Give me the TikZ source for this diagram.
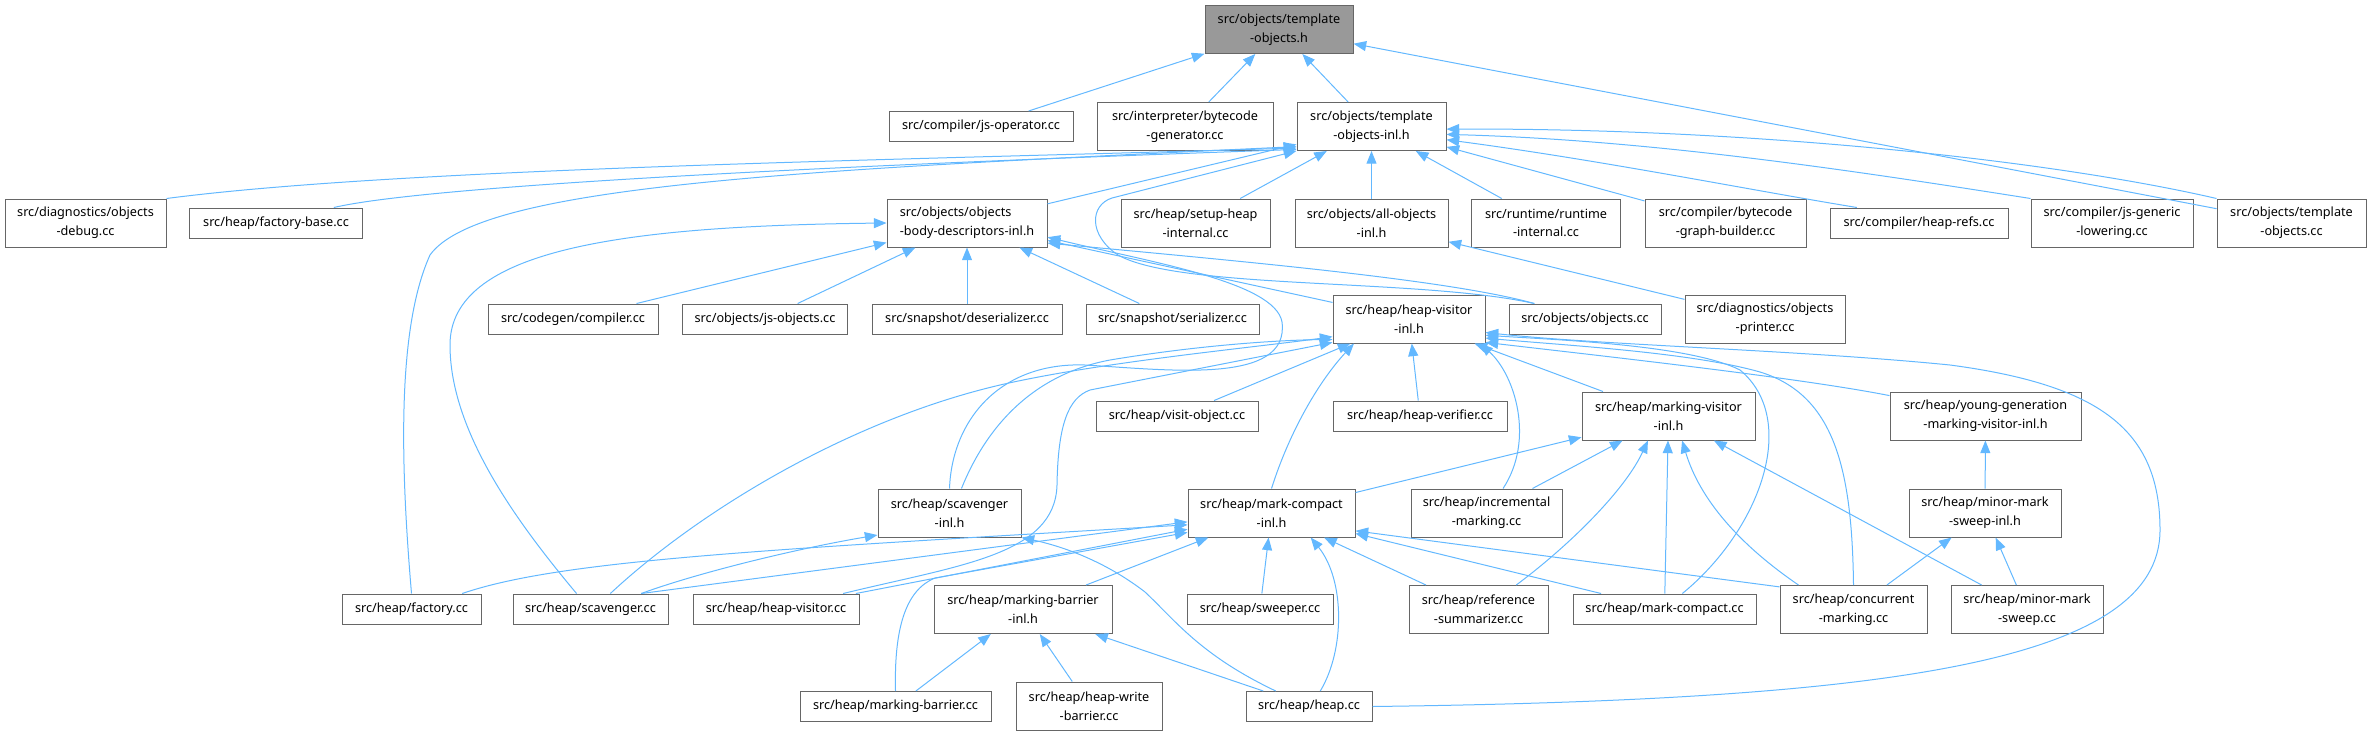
\documentclass[tikz,border=0pt]{standalone}
\usepackage{fontspec}
\setsansfont{Noto Sans}
\usepackage{xcolor}
\usepackage{tikz}
\usetikzlibrary{arrows.meta}
\definecolor{linkblue}{HTML}{63B8FF}
\definecolor{boxgrey}{HTML}{666666}
\definecolor{focusgrey}{HTML}{999999}

\begin{document}
\begin{tikzpicture}[
  x=0.75pt, y=-0.75pt,
  font=\sffamily\fontsize{9.5}{14}\selectfont,
  box/.style={draw=boxgrey, line width=0.75pt, fill=white, inner sep=0pt, align=center, minimum width=#1*0.75pt, minimum height=22.5pt},
  box2/.style={box=#1, minimum height=36pt},
  focus/.style={box2=#1, fill=focusgrey},
  dep/.style={-{Triangle[length=9.5pt,width=7.5pt]}, line width=0.75pt, draw=linkblue}
]
  \useasboundingbox (0,0) rectangle (2372,736);

  \node[focus=148] (root) at (1279,29.5) {src/objects/template\\-objects.h};

  \node[box=184] (jsop) at (981,126.5) {src/compiler/js-operator.cc};
  \node[box2=176] (bcgen) at (1185,126.5) {src/interpreter/bytecode\\-generator.cc};
  \node[box2=149] (toinl) at (1371.5,126.5) {src/objects/template\\-objects-inl.h};

  \node[box2=161] (dbg) at (85.5,223) {src/diagnostics/objects\\-debug.cc};
  \node[box=173] (fbase) at (276,223) {src/heap/factory-base.cc};
  \node[box2=160, align=left] (obdi) at (967,223) {src/objects/objects\\-body-descriptors-inl.h};
  \node[box2=149] (setup) at (1195.5,223) {src/heap/setup-heap\\-internal.cc};
  \node[box2=153] (allobj) at (1371.5,223) {src/objects/all-objects\\-inl.h};
  \node[box2=149] (rtint) at (1546,223) {src/runtime/runtime\\-internal.cc};
  \node[box2=161] (bcgb) at (1725.5,223) {src/compiler/bytecode\\-graph-builder.cc};
  \node[box=178] (hrefs) at (1919,223) {src/compiler/heap-refs.cc};
  \node[box2=162] (jsgl) at (2112,223) {src/compiler/js-generic\\-lowering.cc};
  \node[box2=149] (tocc) at (2291.5,223) {src/objects/template\\-objects.cc};

  \node[box=170] (ccomp) at (573,319) {src/codegen/compiler.cc};
  \node[box=165] (jsobj) at (765,319) {src/objects/js-objects.cc};
  \node[box=190] (deser) at (967,319) {src/snapshot/deserializer.cc};
  \node[box=173] (ser) at (1172.5,319) {src/snapshot/serializer.cc};
  \node[box2=152] (hvinl) at (1409,319) {src/heap/heap-visitor\\-inl.h};
  \node[box=152] (objcc) at (1585,319) {src/objects/objects.cc};
  \node[box2=160] (printer) at (1765,319) {src/diagnostics/objects\\-printer.cc};

  \node[box=162] (visit) at (1177,416) {src/heap/visit-object.cc};
  \node[box=174] (verif) at (1420,416) {src/heap/heap-verifier.cc};
  \node[box2=173] (mvinl) at (1668.5,416) {src/heap/marking-visitor\\-inl.h};
  \node[box2=191] (ygmv) at (1985.5,416) {src/heap/young-generation\\-marking-visitor-inl.h};

  \node[box2=143] (scinl) at (949.5,513) {src/heap/scavenger\\-inl.h};
  \node[box2=167] (mcinl) at (1271.5,513) {src/heap/mark-compact\\-inl.h};
  \node[box2=151] (incr) at (1486.5,513) {src/heap/incremental\\-marking.cc};
  \node[box2=152] (mmsinl) at (1985,513) {src/heap/minor-mark\\-sweep-inl.h};

  \node[box=139] (factory) at (411.5,609) {src/heap/factory.cc};
  \node[box=155] (scav) at (590.5,609) {src/heap/scavenger.cc};
  \node[box=166] (hvcc) at (776,609) {src/heap/heap-visitor.cc};
  \node[box2=178] (mbinl) at (1023,609.5) {src/heap/marking-barrier\\-inl.h};
  \node[box=146] (sweeper) at (1260,609) {src/heap/sweeper.cc};
  \node[box2=139] (refsum) at (1478.5,609.5) {src/heap/reference\\-summarizer.cc};
  \node[box=183] (mccc) at (1664.5,609) {src/heap/mark-compact.cc};
  \node[box2=147] (conc) at (1853.5,609.5) {src/heap/concurrent\\-marking.cc};
  \node[box2=152] (mms) at (2027,609.5) {src/heap/minor-mark\\-sweep.cc};

  \node[box=191] (mbcc) at (895.5,706.5) {src/heap/marking-barrier.cc};
  \node[box2=146] (hwb) at (1089,706) {src/heap/heap-write\\-barrier.cc};
  \node[box=126] (heap) at (1309,706.5) {src/heap/heap.cc};

  \draw[dep] (jsop) -- (root);
  \draw[dep] (bcgen) -- (root);
  \draw[dep] (toinl) -- (root);
  \draw[dep] (tocc) -- (root);

  \draw[dep] (dbg.north east) .. controls (400,168) and (900,160) .. (toinl.196);
  \draw[dep] (fbase.15) .. controls (430,185) and (850,165) .. (toinl.197);
  \draw[dep] (factory.north) .. controls (401,470) and (396,330) .. (430,255) .. controls (480,185) and (800,170) .. (toinl.195);
  \draw[dep] (obdi) -- (toinl);
  \draw[dep] (setup) -- (toinl);
  \draw[dep] (allobj) -- (toinl);
  \draw[dep] (rtint) -- (toinl);
  \draw[dep] (bcgb) -- (toinl);
  \draw[dep] (hrefs.166) .. controls (1750,190) and (1600,160) .. (toinl.-10);
  \draw[dep] (jsgl.north west) .. controls (1850,170) and (1650,140) .. (toinl.-6);
  \draw[dep] (tocc.north west) .. controls (2050,160) and (1750,128) .. (toinl.-2);
  \draw[dep] (objcc.163) .. controls (1420,278) and (1180,290) .. (1118,255) .. controls (1088,235) and (1090,205) .. (1112,198) -- (toinl.198);

  \draw[dep] (scav.132) .. controls (515,520) and (450,430) .. (450,345) .. controls (450,250) and (620,226) .. (obdi.west);
  \draw[dep] (ccomp) -- (obdi);
  \draw[dep] (jsobj) -- (obdi);
  \draw[dep] (deser) -- (obdi);
  \draw[dep] (ser) -- (obdi);
  \draw[dep] (hvinl) -- (obdi);
  \draw[dep] (objcc.163) .. controls (1450,280) and (1250,262) .. (obdi.-14);
  \draw[dep] (scinl.north) .. controls (952,420) and (1000,362) .. (1085,365) .. controls (1170,370) and (1290,385) .. (1282,322) .. controls (1275,282) and (1150,262) .. (obdi.-10);

  \draw[dep] (printer) -- (allobj);

  \draw[dep] (visit) -- (hvinl);
  \draw[dep] (verif) -- (hvinl);
  \draw[dep] (mcinl.north) .. controls (1290,430) and (1320,380) .. (hvinl.204);
  \draw[dep] (incr.56) .. controls (1535,440) and (1515,375) .. (hvinl.-19);
  \draw[dep] (mvinl) -- (hvinl);
  \draw[dep] (ygmv.168) .. controls (1800,378) and (1620,358) .. (hvinl.-17);
  \draw[dep] (conc.north) .. controls (1852,470) and (1835,395) .. (1760,372) .. controls (1690,352) and (1560,345) .. (hvinl.-14);
  \draw[dep] (mccc.41) .. controls (1760,530) and (1800,420) .. (1740,370) .. controls (1690,345) and (1560,340) .. (hvinl.-12);
  \draw[dep] (heap.east) .. controls (1900,700) and (2160,660) .. (2160,530) .. controls (2160,430) and (2100,385) .. (1950,365) .. controls (1800,350) and (1600,345) .. (hvinl.-10);
  \draw[dep] (scav.38) .. controls (700,510) and (850,420) .. (1000,385) .. controls (1100,362) and (1250,348) .. (hvinl.193);
  \draw[dep] (scinl.64) .. controls (985,430) and (1030,375) .. (1110,360) .. controls (1200,345) and (1280,340) .. (hvinl.195);
  \draw[dep] (hvcc.13) .. controls (960,565) and (1055,555) .. (1057,485) .. controls (1058,425) and (1068,398) .. (1090,390) -- (hvinl.197);

  \draw[dep] (factory.17) .. controls (560,560) and (760,550) .. (mcinl.188);
  \draw[dep] (scav.17) -- (mcinl.186);
  \draw[dep] (scav.17) .. controls (700,572) and (800,548) .. (scinl.197);
  \draw[dep] (hvcc) -- (mcinl);
  \draw[dep] (mbcc.north) .. controls (894,630) and (905,590) .. (935,578) -- (mcinl.193);
  \draw[dep] (mbinl) -- (mcinl);
  \draw[dep] (sweeper) -- (mcinl);
  \draw[dep] (refsum) -- (mcinl);
  \draw[dep] (mccc) -- (mcinl);
  \draw[dep] (conc.163) -- (mcinl.-12);
  \draw[dep] (heap.54) .. controls (1345,650) and (1345,580) .. (mcinl.-32);
  \draw[dep] (heap.155) .. controls (1200,655) and (1175,620) .. (1145,592) .. controls (1110,565) and (1070,548) .. (scinl.south east);

  \draw[dep] (heap) -- (mbinl);
  \draw[dep] (mbcc) -- (mbinl);
  \draw[dep] (hwb) -- (mbinl);

  \draw[dep] (mcinl) -- (mvinl);
  \draw[dep] (incr) -- (mvinl);
  \draw[dep] (refsum.33) .. controls (1570,545) and (1625,490) .. (mvinl.230);
  \draw[dep] (mccc) -- (mvinl);
  \draw[dep] (conc.156) .. controls (1740,545) and (1700,500) .. (mvinl.-61);
  \draw[dep] (mms) -- (mvinl);

  \draw[dep] (conc) -- (mmsinl);
  \draw[dep] (mms) -- (mmsinl);
  \draw[dep] (mmsinl) -- (ygmv);
\end{tikzpicture}
\end{document}
